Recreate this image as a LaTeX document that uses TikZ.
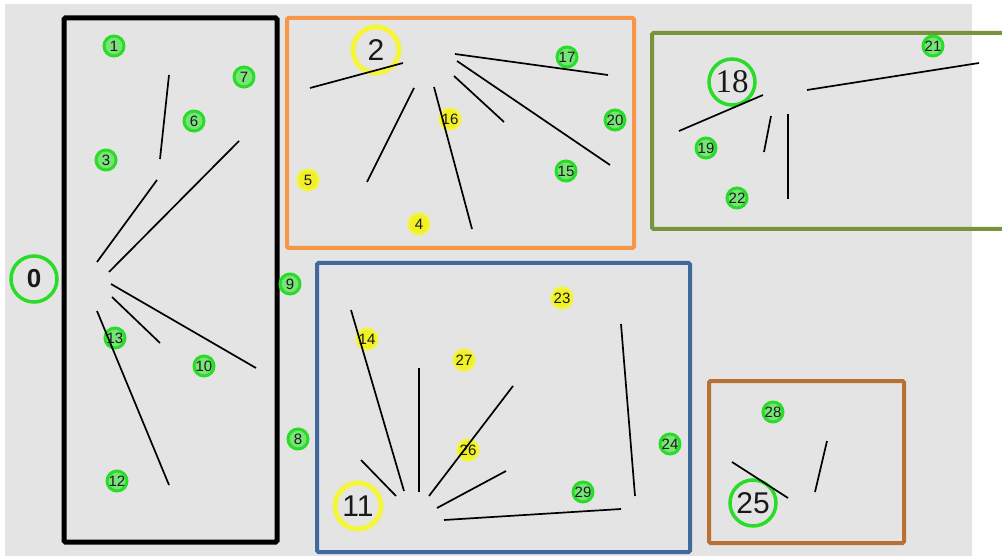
\documentclass[tikz,border=0pt]{standalone}
\usepackage{fontspec}
\newfontfamily\numfont{Liberation Sans}
\newfontfamily\numserif{Liberation Serif}
\definecolor{bggray}{RGB}{228,228,228}
\definecolor{ggreen}{RGB}{40,220,40}
\definecolor{gfill}{RGB}{120,228,120}
\definecolor{yring}{RGB}{245,245,60}
\definecolor{yfill}{RGB}{240,240,40}
\definecolor{orangebox}{RGB}{247,150,70}
\definecolor{olivebox}{RGB}{119,147,60}
\definecolor{bluebox}{RGB}{65,105,155}
\definecolor{brownbox}{RGB}{185,112,52}
\definecolor{txt}{RGB}{25,25,25}
\begin{document}
\begin{tikzpicture}[x=1pt,y=-1pt,
  gnode/.style={circle,draw=ggreen,fill=gfill,line width=3pt,minimum size=20pt,inner sep=0pt,text=txt,font=\numfont\fontsize{15}{15}\selectfont},
  ynode/.style={circle,draw=yring,fill=yfill,line width=2pt,minimum size=21pt,inner sep=0pt,text=txt,font=\numfont\fontsize{15}{15}\selectfont},
  bignode/.style={circle,line width=3.5pt,minimum size=46pt,inner sep=0pt,text=txt,font=\numfont\fontsize{30}{30}\selectfont},
  bigg/.style={bignode,draw=ggreen},
  bigy/.style={bignode,draw=yring,line width=5pt},
  grp/.style={line width=4pt,rounded corners=1.5pt},
  edge/.style={line width=1.7pt,black}]
\useasboundingbox (0,0) rectangle (1002,556);
\clip (0,0) rectangle (1002,556);
\fill[bggray] (5,4) rectangle (972,556);
% group boxes
\draw[grp,line width=5pt,black] (64,18) rectangle (277,542);
\draw[grp,orangebox] (287,18) rectangle (634,248);
\draw[grp,olivebox] (652,33) rectangle (1020,229);
\draw[grp,bluebox] (317,263) rectangle (690,552);
\draw[grp,brownbox] (709,381) rectangle (904,543);
% nodes
\node[bigg,font=\numfont\fontsize{26}{26}\selectfont\bfseries] (n0) at (34,279) {0};
\node[gnode] (n1) at (114,46) {1};
\node[gnode] (n7) at (244,77) {7};
\node[gnode] (n6) at (194,121) {6};
\node[gnode] (n3) at (106,160) {3};
\node[gnode] (n13) at (115,338) {13};
\node[gnode] (n10) at (204,366) {10};
\node[gnode] (n12) at (117,481) {12};
\node[gnode] (n9) at (290,284) {9};
\node[gnode] (n8) at (298,439) {8};
\node[bigy] (n2) at (376,50) {2};
\node[ynode] (n16) at (450,119) {16};
\node[ynode] (n5) at (308,180) {5};
\node[ynode] (n4) at (419,224) {4};
\node[gnode] (n17) at (567,57) {17};
\node[gnode] (n20) at (615,120) {20};
\node[gnode] (n15) at (566,171) {15};
\node[bigg,font=\numserif\fontsize{33}{33}\selectfont] (n18) at (732,82) {18};
\node[gnode] (n21) at (933,46) {21};
\node[gnode] (n19) at (706,148) {19};
\node[gnode] (n22) at (737,198) {22};
\node[ynode] (n23) at (562,298) {23};
\node[ynode] (n14) at (367,339) {14};
\node[ynode] (n27) at (464,360) {27};
\node[ynode] (n26) at (468,450) {26};
\node[bigy] (n11) at (358,506) {11};
\node[gnode] (n29) at (583,492) {29};
\node[gnode] (n24) at (670,444) {24};
\node[gnode] (n28) at (773,412) {28};
\node[bigg] (n25) at (753,503) {25};
% connector end points
\coordinate (a1) at (169,75);  \coordinate (b1) at (160,159);
\coordinate (a2) at (157,180); \coordinate (b2) at (97,262);
\coordinate (a3) at (239,141); \coordinate (b3) at (109,272);
\coordinate (a4) at (111,284); \coordinate (b4) at (256,368);
\coordinate (a5) at (112,297); \coordinate (b5) at (160,343);
\coordinate (a6) at (97,311);  \coordinate (b6) at (169,485);
\coordinate (a7) at (403,63);  \coordinate (b7) at (310,88);
\coordinate (a8) at (414,88);  \coordinate (b8) at (367,182);
\coordinate (a9) at (434,87);  \coordinate (b9) at (472,229);
\coordinate (a10) at (454,76); \coordinate (b10) at (504,122);
\coordinate (a11) at (457,61); \coordinate (b11) at (610,165);
\coordinate (a12) at (455,54); \coordinate (b12) at (608,75);
\coordinate (a13) at (763,95); \coordinate (b13) at (679,131);
\coordinate (a14) at (807,90); \coordinate (b14) at (979,63);
\coordinate (a15) at (771,116); \coordinate (b15) at (764,152);
\coordinate (a16) at (788,114); \coordinate (b16) at (788,199);
\coordinate (a17) at (351,310); \coordinate (b17) at (404,491);
\coordinate (a18) at (419,368); \coordinate (b18) at (419,492);
\coordinate (a19) at (513,386); \coordinate (b19) at (429,496);
\coordinate (a20) at (361,460); \coordinate (b20) at (396,496);
\coordinate (a21) at (506,471); \coordinate (b21) at (437,508);
\coordinate (a22) at (444,520); \coordinate (b22) at (621,509);
\coordinate (a23) at (621,324); \coordinate (b23) at (635,496);
\coordinate (a24) at (732,462); \coordinate (b24) at (788,498);
\coordinate (a25) at (827,441); \coordinate (b25) at (815,492);
% connectors
\foreach \i in {1,...,25} {\draw[edge] (a\i) -- (b\i);}
\end{tikzpicture}
\end{document}
